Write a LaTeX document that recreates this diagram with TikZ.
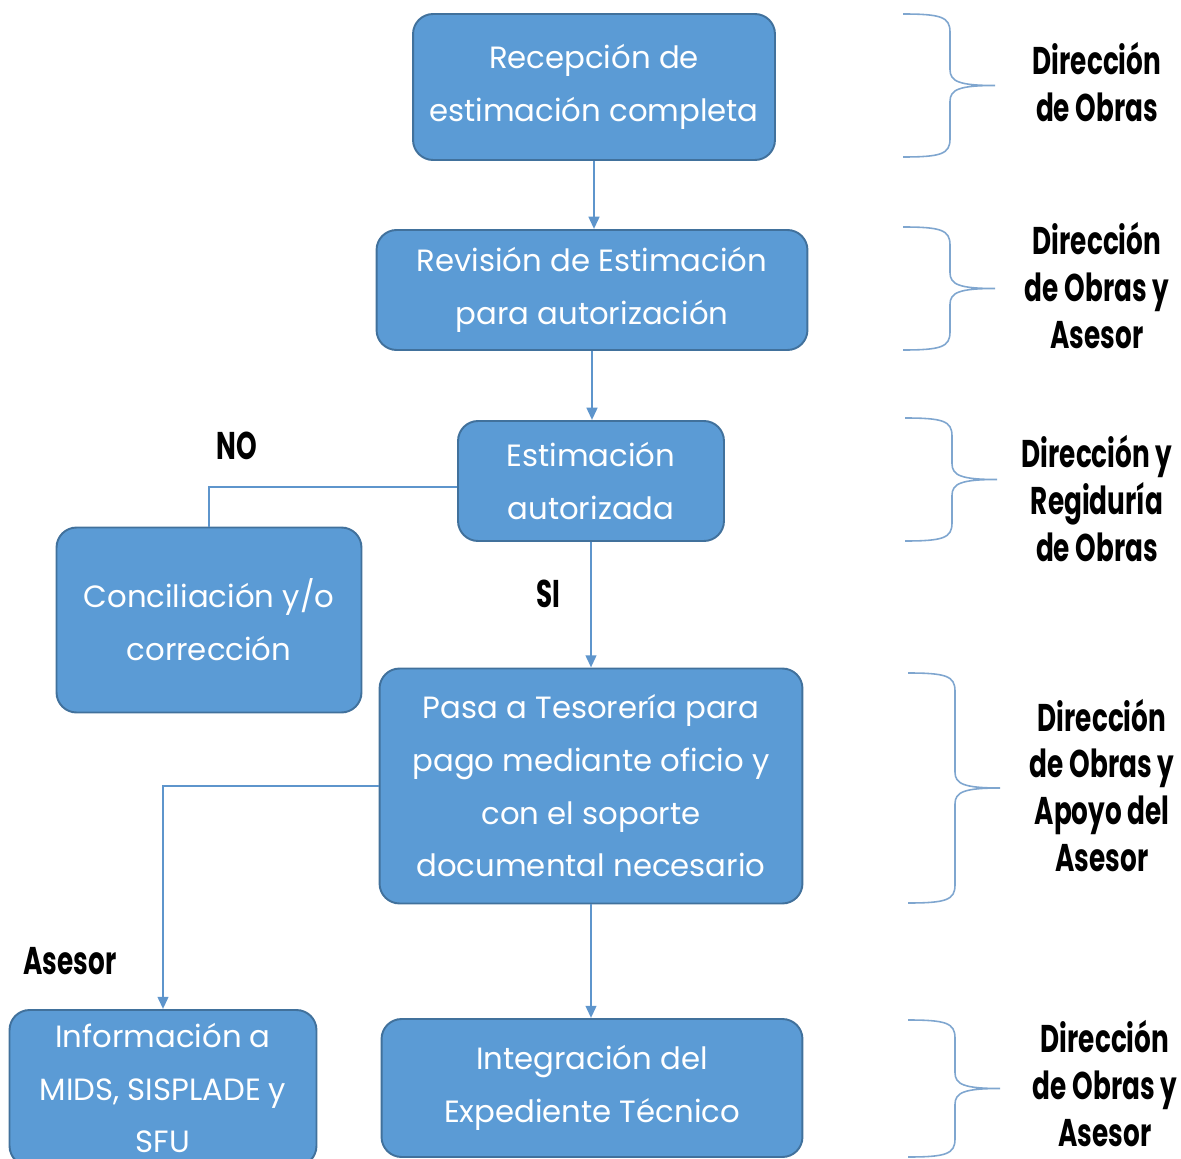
\documentclass[tikz,border=0pt]{standalone}
\usepackage{fontspec}
\setmainfont{Poppins}
\usepackage{graphicx}
\usetikzlibrary{arrows.meta,positioning}
\definecolor{azul}{HTML}{5B9BD5}
\definecolor{azulborde}{HTML}{41719C}
\definecolor{azullinea}{HTML}{5E95CC}
\definecolor{azulllave}{HTML}{7FA6CF}
% labels on the right are narrow and tall
\newcommand{\estrecho}[1]{\scalebox{0.68}[1]{\begin{tabular}{@{}c@{}}#1\end{tabular}}}

\begin{document}
\begin{tikzpicture}[x=0.02cm, y=-0.02cm, >={Triangle[length=7pt,width=6pt]}]
	\tikzset{box/.style={rounded corners=0.4cm, draw=azulborde, fill=azul, line width=1.1pt, text=white, align=center, inner sep=0pt, font=\fontsize{17.5}{30}\selectfont}}
	\tikzset{rol/.style={text=black, inner sep=0pt, font=\bfseries\fontsize{22}{26.6}\selectfont}}
	\tikzset{flecha/.style={->, draw=azullinea, line width=1.5pt}}
	\tikzset{llave/.style={draw=azulllave, line width=0.9pt}}
	\useasboundingbox (0,0) rectangle (1181,1159);

	% Steps
	\node[box, minimum width=7.24cm, minimum height=2.92cm] (recep) at (594,87) {Recepción de\\estimación completa};
	\node[box, minimum width=8.62cm, minimum height=2.4cm] (revision) at (592,290) {Revisión de Estimación\\para autorización};
	\node[box, minimum width=5.32cm, minimum height=2.4cm] (estim) at (591,481) {Estimación\\autorizada};
	\node[box, minimum width=6.1cm, minimum height=3.7cm] (concil) at (209,620) {Conciliación y/o\\corrección};
	\node[box, minimum width=8.46cm, minimum height=4.7cm] (pasa) at (591,786) {Pasa a Tesorería para\\pago mediante oficio y\\con el soporte\\documental necesario};
	\node[box, minimum width=6.14cm, minimum height=3.12cm] (info) at (163,1088) {Información a\\MIDS, SISPLADE y\\SFU};
	\node[box, minimum width=8.42cm, minimum height=2.76cm] (integ) at (592,1088) {Integración del\\Expediente Técnico};

	% Branch labels
	\node[rol] (no) at (237,450) {\estrecho{NO}};
	\node[rol] (si) at (548,598) {\estrecho{SI}};
	\node[rol] (asesor) at (70,965) {\estrecho{Asesor}};

	% Transitions
	\draw[flecha] (recep.south) -- (recep.south |- revision.north);
	\draw[flecha] (revision.south) -- (revision.south |- estim.north);
	\draw[flecha] (estim.south) -- (estim.south |- pasa.north);
	\draw[flecha] (pasa.south) -- (pasa.south |- integ.north);
	\draw[flecha, -] ([yshift=-0.12cm]estim.west) -| (concil.north);
	\draw[flecha] (pasa.west) -| (info.north);

	% Responsibles
	\foreach \x/\a/\b in {903/14/157, 903/227/350, 905/418/541, 908/673/903, 908/1020/1157}{
		\pgfmathsetmacro\m{(\a+\b)/2}
		\draw[llave] (\x,\a) .. controls (\x+38,\a) and (\x+47,\a+3) .. (\x+47,\a+18)
			-- (\x+47,\m-16) .. controls (\x+47,\m-4) and (\x+56,\m) .. (\x+92,\m)
			.. controls (\x+56,\m) and (\x+47,\m+4) .. (\x+47,\m+16)
			-- (\x+47,\b-18) .. controls (\x+47,\b-3) and (\x+38,\b) .. (\x,\b);
	}
	\node[rol] (rol1) at (1097,89) {\estrecho{Dirección\\de Obras}};
	\node[rol] (rol2) at (1097,292) {\estrecho{Dirección\\de Obras y\\Asesor}};
	\node[rol] (rol3) at (1097,505) {\estrecho{Dirección y\\Regiduría\\de Obras}};
	\node[rol] (rol4) at (1102,792) {\estrecho{Dirección\\de Obras y\\Apoyo del\\Asesor}};
	\node[rol] (rol5) at (1105,1090) {\estrecho{Dirección\\de Obras y\\Asesor}};
\end{tikzpicture}
\end{document}
